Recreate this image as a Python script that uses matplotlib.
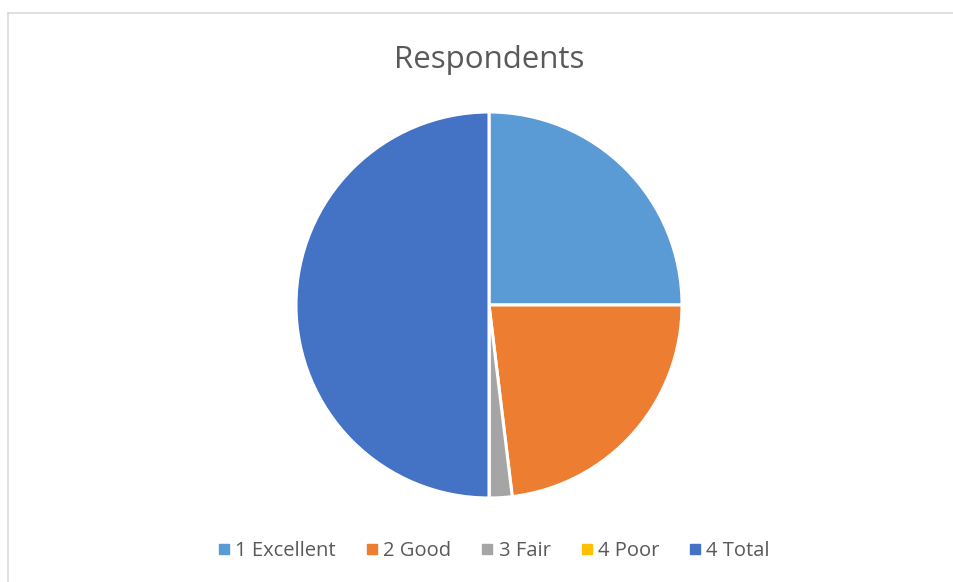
import matplotlib
matplotlib.use("Agg")
import matplotlib.pyplot as plt
from matplotlib.lines import Line2D

categories = ["1 Excellent", "2 Good", "3 Fair", "4 Poor", "4 Total"]
values = [13, 12, 1, 0, 26]
colors = ["#5B9BD5", "#ED7D31", "#A5A5A5", "#FFC000", "#4472C4"]
title = "Respondents"

plt.rcParams['font.family'] = ['Open Sans', 'DejaVu Sans']

W, H = 954, 582
fig = plt.figure(figsize=(W / 100, H / 100), dpi=100)

# chart border
fig.add_artist(Line2D([8 / W, 8 / W], [0, 1 - 13 / H], transform=fig.transFigure,
                      color="#D9D9D9", lw=1.2))
fig.add_artist(Line2D([8 / W, 1], [1 - 13 / H, 1 - 13 / H], transform=fig.transFigure,
                      color="#D9D9D9", lw=1.2))

cx, cy, r = 489, 305, 193
ax = fig.add_axes([(cx - r) / W, (H - cy - r) / H, 2 * r / W, 2 * r / H])
ax.pie(values, colors=colors, startangle=90, counterclock=False, radius=1,
       wedgeprops=dict(edgecolor="white", linewidth=2.2))
ax.set_xlim(-1.0, 1.0)
ax.set_ylim(-1.0, 1.0)
ax.set_aspect("equal")
ax.axis("off")

fig.text(cx / W, 1 - 60 / H, title, ha="center", va="center", fontsize=22.5, color="#595959")

handles = [Line2D([], [], marker="s", linestyle="none", markersize=7,
                  markerfacecolor=c, markeredgecolor=c) for c in colors]
fig.legend(handles, categories, loc="center", bbox_to_anchor=(494 / W, 1 - 551 / H),
           ncol=5, frameon=False, fontsize=14.5, labelcolor="#595959",
           handletextpad=0.25, columnspacing=1.5, handlelength=0.6)

fig.savefig("out.png", dpi=100)
